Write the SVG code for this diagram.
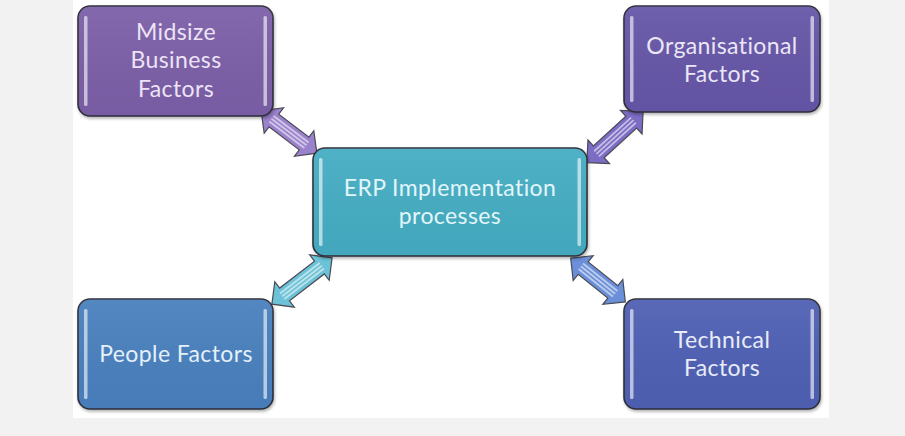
<svg xmlns="http://www.w3.org/2000/svg" width="905" height="436" viewBox="0 0 905 436">
<defs>
<linearGradient id="gloss" x1="0" y1="0" x2="0" y2="1">
<stop offset="0" stop-color="#ffffff" stop-opacity="0.06"/>
<stop offset="1" stop-color="#000000" stop-opacity="0.03"/>
</linearGradient>
<filter id="sh" x="-10%" y="-10%" width="120%" height="130%">
<feGaussianBlur in="SourceAlpha" stdDeviation="1.5"/>
<feOffset dx="1" dy="2" result="b"/>
<feComponentTransfer><feFuncA type="linear" slope="0.3"/></feComponentTransfer>
<feMerge><feMergeNode/><feMergeNode in="SourceGraphic"/></feMerge>
</filter>
</defs>
<style>
.box{stroke:#2f2f3a;stroke-width:1.6}
.hl{fill:#ffffff;opacity:0.6}
.t{font-family:Lato,"Open Sans","Liberation Sans",sans-serif;font-size:23px;text-anchor:middle;font-variant-ligatures:none;font-feature-settings:"liga" 0;letter-spacing:0.4px}
.arr{stroke:#4a4a55;stroke-width:1.2;stroke-linejoin:miter}
.stripe{stroke:#ffffff;stroke-width:1.8;opacity:0.55;fill:none}
</style>
<rect x="0" y="0" width="905" height="436" fill="#f2f2f2"/>
<rect x="73" y="0" width="756" height="418" fill="#ffffff"/>

<g id="connectors">
<g transform="translate(289,132) rotate(37.2)">
<polygon class="arr" fill="#9a82cc" points="-35,0 -19,-16 -19,-8 19,-8 19,-16 35,0 19,16 19,8 -19,8 -19,16"/>
<path class="stripe" d="M-22,-3.5 L22,-3.5 M-22,0 L22,0 M-22,3.5 L22,3.5"/>
</g>
<g transform="translate(615,137) rotate(-42.3)">
<polygon class="arr" fill="#7c6cc4" points="-38,0 -22,-16 -22,-8 22,-8 22,-16 38,0 22,16 22,8 -22,8 -22,16"/>
<path class="stripe" d="M-25,-3.5 L25,-3.5 M-25,0 L25,0 M-25,3.5 L25,3.5"/>
</g>
<g transform="translate(302,281) rotate(-37.6)">
<polygon class="arr" fill="#6cc2d6" points="-38,0 -22,-16 -22,-8 22,-8 22,-16 38,0 22,16 22,8 -22,8 -22,16"/>
<path class="stripe" d="M-25,-3.5 L25,-3.5 M-25,0 L25,0 M-25,3.5 L25,3.5"/>
</g>
<g transform="translate(598,280) rotate(38.7)">
<polygon class="arr" fill="#6b8fd8" points="-35,0 -19,-16 -19,-8 19,-8 19,-16 35,0 19,16 19,8 -19,8 -19,16"/>
<path class="stripe" d="M-22,-3.5 L22,-3.5 M-22,0 L22,0 M-22,3.5 L22,3.5"/>
</g>
</g>

<g id="midsize">
<rect class="box" x="78" y="6" width="195" height="110" rx="12" fill="#7b5ea8" filter="url(#sh)"/>
<rect x="78" y="6" width="195" height="110" rx="12" fill="url(#gloss)"/>
<rect class="hl" x="84" y="16" width="3.5" height="90" rx="1.5"/>
<rect class="hl" x="263.5" y="16" width="3.5" height="90" rx="1.5"/>
<text class="t" fill="#ece4f6" x="176" y="40">Midsize</text>
<text class="t" fill="#ece4f6" x="176" y="68">Business</text>
<text class="t" fill="#ece4f6" x="176" y="97">Factors</text>
</g>

<g id="organisational">
<rect class="box" x="624" y="6" width="196" height="106" rx="12" fill="#6656a8" filter="url(#sh)"/>
<rect x="624" y="6" width="196" height="106" rx="12" fill="url(#gloss)"/>
<rect class="hl" x="630" y="16" width="3.5" height="86" rx="1.5"/>
<rect class="hl" x="810.5" y="16" width="3.5" height="86" rx="1.5"/>
<text class="t" fill="#ebe6f6" x="722" y="54">Organisational</text>
<text class="t" fill="#ebe6f6" x="722" y="82">Factors</text>
</g>

<g id="erp">
<rect class="box" x="313" y="148" width="274" height="108" rx="12" fill="#45adc3" filter="url(#sh)"/>
<rect x="313" y="148" width="274" height="108" rx="12" fill="url(#gloss)"/>
<rect class="hl" x="319" y="158" width="3.5" height="88" rx="1.5"/>
<rect class="hl" x="577.5" y="158" width="3.5" height="88" rx="1.5"/>
<text class="t" fill="#e2f6fa" x="450" y="196">ERP Implementation</text>
<text class="t" fill="#e2f6fa" x="450" y="224">processes</text>
</g>

<g id="people">
<rect class="box" x="78" y="299" width="195" height="110" rx="12" fill="#4a80be" filter="url(#sh)"/>
<rect x="78" y="299" width="195" height="110" rx="12" fill="url(#gloss)"/>
<rect class="hl" x="84" y="309" width="3.5" height="90" rx="1.5"/>
<rect class="hl" x="263.5" y="309" width="3.5" height="90" rx="1.5"/>
<text class="t" fill="#e4f0fa" x="176" y="362">People Factors</text>
</g>

<g id="technical">
<rect class="box" x="624" y="299" width="196" height="110" rx="12" fill="#4f60b4" filter="url(#sh)"/>
<rect x="624" y="299" width="196" height="110" rx="12" fill="url(#gloss)"/>
<rect class="hl" x="630" y="309" width="3.5" height="90" rx="1.5"/>
<rect class="hl" x="810.5" y="309" width="3.5" height="90" rx="1.5"/>
<text class="t" fill="#e8ecf8" x="722" y="348">Technical</text>
<text class="t" fill="#e8ecf8" x="722" y="376">Factors</text>
</g>
</svg>
